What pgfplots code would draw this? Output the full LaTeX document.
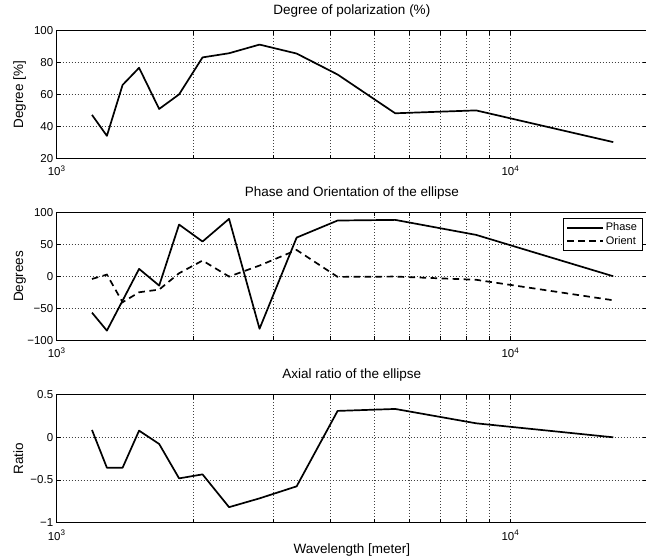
\documentclass[border=0pt]{standalone}
\usepackage{pgfplots}
\pgfplotsset{compat=1.18}
\usepackage{fontspec}
\setmainfont{Liberation Sans}

\pgfplotsset{
  every axis/.append style={
    scale only axis, width=590.3bp, height=128.1bp,
    xmin=1000, xmax=20000,
    xtick={1000,10000}, xticklabels={10\textsuperscript{3},10\textsuperscript{4}},
    minor xtick={2000,3000,4000,5000,6000,7000,8000,9000},
    xmajorgrids, xminorgrids, ymajorgrids,
    grid style={black!75, line width=0.6bp, dash pattern=on 0.7bp off 2.3bp},
    minor grid style={black!75, line width=0.6bp, dash pattern=on 0.7bp off 2.3bp},
    axis line style={line width=0.8bp},
    tick style={black, line width=0.6bp},
    major tick length=4bp, minor tick length=4bp,
    tick align=inside,
    ticklabel style={font=\fontsize{11.5bp}{13bp}\selectfont},
    xticklabel style={anchor=base, yshift=-17.3bp},
    label style={font=\fontsize{13.5bp}{16bp}\selectfont},
    title style={font=\fontsize{13.5bp}{16bp}\selectfont, at={(0.5,1)}, anchor=base, yshift=10bp},
    ylabel style={at={(axis description cs:-0.057,0.5)}, anchor=base},
    xlabel style={at={(axis description cs:0.5,0)}, anchor=base, yshift=-30.6bp},
  },
}

\begin{document}
\begin{tikzpicture}
% ---------- Degree of polarization ----------
\begin{semilogxaxis}[at={(56.7bp,-30.5bp)}, anchor=north west,
  title={Degree of polarization (\%)},
  ylabel={Degree [\%]},
  ymin=20, ymax=100, ytick={20,40,60,80,100},
  yticklabels={20,40,60,80,100}]
\addplot[black, mark=none, line width=1.7bp, line join=round] coordinates {
(1196,47.3) (1290,34.2) (1397,66.0) (1519,76.7) (1682,51.0) (1861,60.1)
(2096,83.2) (2398,85.8) (2799,91.2) (3379,85.6) (4160,72.5) (5572,48.3)
(8400,50.1) (16850,30.3)};
\end{semilogxaxis}

% ---------- Phase and Orientation ----------
\begin{semilogxaxis}[at={(56.7bp,-212.2bp)}, anchor=north west,
  title={Phase and Orientation of the ellipse},
  ylabel={Degrees},
  ymin=-100, ymax=100, ytick={-100,-50,0,50,100},
  yticklabels={−100,−50,0,50,100},
  legend style={at={(rel axis cs:0.9927,0.953)}, anchor=north east,
    draw=black, line width=0.6bp, fill=white,
    inner xsep=3.5bp, inner ysep=2.6bp, row sep=0bp,
    nodes={inner sep=1.85bp},
    font=\fontsize{11bp}{12bp}\selectfont, cells={anchor=west}},
  legend image code/.code={\draw[#1] (0bp,0bp) -- (36bp,0bp);}]
\addplot[black, mark=none, line width=1.7bp, line join=round] coordinates {
(1196,-56.8) (1290,-84.9) (1397,-38) (1519,11.5) (1682,-14.6) (1861,80.7)
(2096,54.2) (2398,89.6) (2799,-82) (3379,60.4) (4160,87) (5572,88)
(8400,64.6) (16850,0)};
\addlegendentry{Phase}
\addplot[black, mark=none, line width=1.7bp, dash pattern=on 6.5bp off 4.5bp] coordinates {
(1196,-4.2) (1290,2.6) (1397,-40.6) (1519,-25) (1682,-20.8) (1861,4.7)
(2096,24.5) (2398,-0.5) (2799,16.7) (3379,41) (4160,-1) (5572,-0.5)
(8400,-5.5) (16850,-37.5)};
\addlegendentry{Orient}
\end{semilogxaxis}

% ---------- Axial ratio ----------
\begin{semilogxaxis}[at={(56.7bp,-394.6bp)}, anchor=north west,
  title={Axial ratio of the ellipse},
  ylabel={Ratio},
  xlabel={Wavelength [meter]},
  ymin=-1, ymax=0.5, ytick={-1,-0.5,0,0.5},
  yticklabels={−1,−0.5,0,0.5}]
\addplot[black, mark=none, line width=1.7bp, line join=round] coordinates {
(1196,0.086) (1290,-0.356) (1397,-0.356) (1519,0.078) (1682,-0.078) (1861,-0.481)
(2096,-0.434) (2398,-0.818) (2799,-0.715) (3379,-0.574) (4160,0.309) (5572,0.332)
(8400,0.164) (16850,0.0)};
\end{semilogxaxis}

\pgfresetboundingbox
\path[use as bounding box] (0bp,0bp) rectangle (646bp,-560bp);
\end{tikzpicture}
\end{document}
